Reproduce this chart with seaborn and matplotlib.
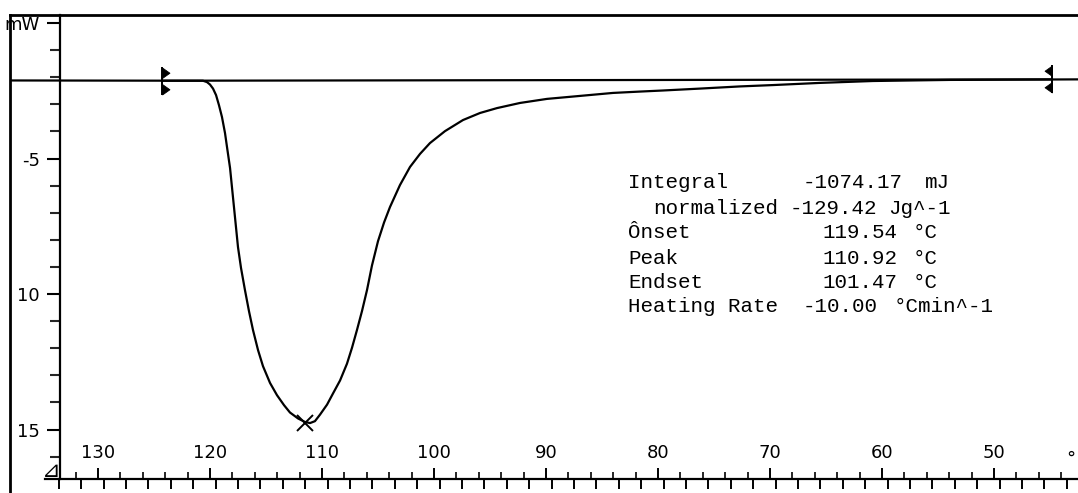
import numpy as np
import pandas as pd
import matplotlib
matplotlib.use("Agg")
import matplotlib.pyplot as plt
from matplotlib.ticker import FixedLocator, FixedFormatter
import seaborn as sns

# ---------------- data ----------------
temp_C = [137.86, 120.63, 120.27, 120.00, 119.73, 119.46, 119.20, 118.93, 118.66,
          118.48, 118.21, 118.04, 117.77, 117.50, 117.23, 116.88, 116.52, 116.16,
          115.71, 115.27, 114.64, 114.02, 113.39, 112.86, 112.14, 111.52, 111.07,
          110.63, 110.18, 109.55, 109.02, 108.39, 107.77, 107.32, 106.88, 106.43,
          105.98, 105.54, 105.00, 104.46, 103.93, 103.04, 102.14, 101.25, 100.36,
          99.02, 97.41, 95.89, 94.38, 92.32, 89.91, 86.96, 84.02, 81.61, 79.55,
          76.25, 72.68, 69.73, 65.54, 60.80, 53.93, 42.50]
heat_flow_mW = [-2.12, -2.13, -2.18, -2.27, -2.42, -2.66, -3.03, -3.47, -4.06,
                -4.58, -5.35, -6.05, -7.16, -8.27, -9.04, -9.85, -10.63, -11.33,
                -12.07, -12.66, -13.28, -13.73, -14.10, -14.37, -14.59, -14.72, -14.76,
                -14.69, -14.45, -14.08, -13.67, -13.19, -12.57, -11.98, -11.33, -10.63,
                -9.85, -8.95, -8.05, -7.36, -6.79, -5.98, -5.31, -4.83, -4.43,
                -3.99, -3.58, -3.32, -3.14, -2.95, -2.80, -2.69, -2.58, -2.53, -2.49,
                -2.42, -2.34, -2.29, -2.21, -2.14, -2.10, -2.08]

baseline_T = [124.3, 44.8]
baseline_mW = [-2.13, -2.08]

peak_T = [111.5]
peak_mW = [-14.76]

x_major = [130, 120, 110, 100, 90, 80, 70, 60, 50]
x_labels = ["130", "120", "110", "100", "90", "80", "70", "60", "50"]
y_major = [0, -5, -10, -15]
y_labels = ["mW", "-5", "10", "15"]

info_labels = ["Integral", "normalized", "Ônset", "Peak", "Endset", "Heating Rate"]
info_values = ["-1074.17", "-129.42", "119.54", "110.92", "101.47", "-10.00"]
info_units = ["mJ", "Jg^-1", "°C", "°C", "°C", "°Cmin^-1"]

# ---------------- style ----------------
sns.set_theme(style="white")
plt.rcParams["font.family"] = ["DejaVu Sans"]

W, H = 1078, 493
fig = plt.figure(figsize=(W / 100, H / 100), dpi=100)
rect = [10 / W, 0, 1068 / W, 478 / H]

# outer frame (left + top lines)
axf = fig.add_axes(rect, zorder=0)
axf.set_facecolor("none")
axf.set_xticks([]); axf.set_yticks([])
for s in ["right", "bottom"]:
    axf.spines[s].set_visible(False)
for s in ["left", "top"]:
    axf.spines[s].set_color("black")
    axf.spines[s].set_linewidth(2.0)

ax = fig.add_axes(rect, zorder=1)
ax.set_facecolor("none")

df = pd.DataFrame({"T": temp_C, "mW": heat_flow_mW})
sns.lineplot(data=df, x="T", y="mW", sort=False, estimator=None, color="black",
             linewidth=1.6, ax=ax)
ax.plot(baseline_T, baseline_mW, color="black", linewidth=1.6)

# baseline limit markers (bar with two flags)
flag_up_r = [(0, 1), (0, 0.22), (0.55, 0.61), (0, 1)]
flag_dn_r = [(0, -1), (0, -0.22), (0.55, -0.61), (0, -1)]
flag_up_l = [(0, 1), (0, 0.22), (-0.55, 0.61), (0, 1)]
flag_dn_l = [(0, -1), (0, -0.22), (-0.55, -0.61), (0, -1)]
ms = 19.5
for xi, yi, up, dn in [(baseline_T[0], baseline_mW[0], flag_up_r, flag_dn_r),
                       (baseline_T[1], baseline_mW[1], flag_up_l, flag_dn_l)]:
    ax.plot([xi], [yi], marker="|", markersize=ms, markeredgewidth=1.4, color="black")
    ax.plot([xi], [yi], marker=up, markersize=ms, color="black", markeredgewidth=0.6)
    ax.plot([xi], [yi], marker=dn, markersize=ms, color="black", markeredgewidth=0.6)

ax.plot(peak_T, peak_mW, marker="x", markersize=11, markeredgewidth=1.4,
        color="black", linestyle="none")

ax.set_xlim(137.857, 42.5)
ax.set_ylim(-17.34, 0.295)
ax.set_xlabel("")
ax.set_ylabel("")

# axes spines
ax.spines["top"].set_visible(False)
ax.spines["right"].set_visible(False)
ax.spines["left"].set_position(("data", 133.39))
ax.spines["left"].set_bounds(-16.83, 0.295)
ax.spines["bottom"].set_position(("data", -16.83))
ax.spines["bottom"].set_bounds(134.7, 42.5)
for s in ["left", "bottom"]:
    ax.spines[s].set_color("black")
    ax.spines[s].set_linewidth(1.6)

# y ticks
ax.yaxis.set_major_locator(FixedLocator(y_major))
ax.yaxis.set_major_formatter(FixedFormatter(y_labels))
ax.yaxis.set_minor_locator(FixedLocator(list(range(-16, 0))))
ax.tick_params(axis="y", which="major", direction="out", length=9.5, width=1.5,
               pad=5, labelsize=13, colors="black", left=True)
ax.tick_params(axis="y", which="minor", direction="out", length=7, width=1.5, left=True)

# x ticks (upper row)
ax.xaxis.set_major_locator(FixedLocator(x_major))
ax.xaxis.set_major_formatter(FixedFormatter(x_labels))
ax.xaxis.set_minor_locator(FixedLocator(list(range(44, 133, 2))))
ax.tick_params(axis="x", which="major", direction="in", length=8, width=1.4,
               pad=-25, labelsize=13, colors="black", bottom=True)
ax.tick_params(axis="x", which="minor", direction="in", length=5, width=1.4, bottom=True)

# lower tick row (secondary axis, offset ticks)
sec = ax.secondary_xaxis(14 / 478, functions=(lambda x: x, lambda x: x))
sec.xaxis.set_major_locator(FixedLocator(list(np.arange(43.5, 134, 2.0))))
sec.tick_params(axis="x", direction="out", length=7.5, width=1.4, labelbottom=False,
                bottom=True, colors="black")
for s in sec.spines.values():
    s.set_visible(False)

# small symbols
fig.text(51 / W, 1 - 471 / H, "⊿", ha="center", va="center", fontsize=16, color="black")
fig.text(1071 / W, 1 - 464 / H, "°", ha="center", va="baseline", fontsize=13, color="black")

# annotation block
rows_y = [183, 208, 233, 258, 282, 306]
label_x = [628, 653, 628, 628, 628, 628]
value_x = [803, 790, 822, 822, 822, 803]
unit_x = [925, 888, 913, 913, 913, 894]
mono = ["Liberation Mono", "DejaVu Sans Mono"]
for i in range(len(info_labels)):
    yy = 1 - rows_y[i] / H
    fig.text(label_x[i] / W, yy, info_labels[i], ha="left", va="center",
             fontsize=15, family=mono, color="black")
    fig.text(value_x[i] / W, yy, info_values[i], ha="left", va="center",
             fontsize=15, family=mono, color="black")
    fig.text(unit_x[i] / W, yy, info_units[i], ha="left", va="center",
             fontsize=15, family=mono, color="black")

fig.savefig("out.png", dpi=100, facecolor="white")
